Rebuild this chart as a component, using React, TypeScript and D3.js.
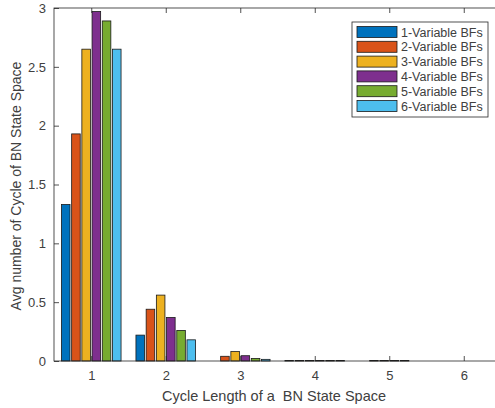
import { useRef, useEffect } from "react";
import * as d3 from "d3";

const cycleLengths = [1, 2, 3, 4, 5, 6];
const seriesNames = [
  "1-Variable BFs",
  "2-Variable BFs",
  "3-Variable BFs",
  "4-Variable BFs",
  "5-Variable BFs",
  "6-Variable BFs",
];
// values[series][cycleLength]
const oneVar = [1.33, 0.22, 0, 0.004, 0, 0];
const twoVar = [1.93, 0.44, 0.04, 0.004, 0.004, 0];
const threeVar = [2.65, 0.56, 0.08, 0.004, 0.004, 0];
const fourVar = [2.97, 0.37, 0.045, 0.004, 0.004, 0];
const fiveVar = [2.89, 0.26, 0.022, 0.004, 0.004, 0];
const sixVar = [2.65, 0.18, 0.014, 0.004, 0, 0];
const seriesValues = [oneVar, twoVar, threeVar, fourVar, fiveVar, sixVar];
const colors = ["#0072BD", "#D95319", "#EDB120", "#7E2F8E", "#77AC30", "#4DBEEE"];
const yTicks = [0, 0.5, 1, 1.5, 2, 2.5, 3];

export default function App() {
  const svgRef = useRef<SVGSVGElement>(null);

  useEffect(() => {
    if (!svgRef.current) return;
    const width = 495;
    const height = 408;
    const margin = { top: 8, right: -6, bottom: 47, left: 54 };
    const innerWidth = width - margin.left - margin.right;
    const innerHeight = height - margin.top - margin.bottom;

    const svg = d3.select(svgRef.current);
    svg.selectAll("*").remove();
    svg.attr("width", width).attr("height", height);
    svg.append("rect").attr("width", width).attr("height", height).attr("fill", "#fff");

    const g = svg.append("g").attr("transform", `translate(${margin.left},${margin.top})`);
    const font = "'Liberation Sans', Arial, sans-serif";
    const axisColor = "#262626";
    const textColor = "#404040";

    const x = d3.scaleLinear().domain([0.5, 6.5]).range([0, innerWidth]);
    const y = d3.scaleLinear().domain([0, 3]).range([innerHeight, 0]);
    const step = x(2) - x(1);
    const x1 = d3
      .scaleBand<number>()
      .domain(d3.range(seriesNames.length))
      .range([-0.4 * step, 0.4 * step])
      .paddingInner(0.16);

    // bars
    seriesValues.forEach((vals, si) => {
      g.selectAll(`.bar-${si}`)
        .data(vals.map((v, i) => ({ v, c: cycleLengths[i] })).filter((d) => d.v > 0))
        .join("rect")
        .attr("x", (d) => x(d.c) + (x1(si) ?? 0))
        .attr("y", (d) => y(d.v))
        .attr("width", x1.bandwidth())
        .attr("height", (d) => Math.max(innerHeight - y(d.v), 0.5))
        .attr("fill", colors[si])
        .attr("stroke", "#1a1a1a")
        .attr("stroke-width", 0.8);
    });

    // box
    g.append("rect")
      .attr("width", innerWidth)
      .attr("height", innerHeight)
      .attr("fill", "none")
      .attr("stroke", axisColor)
      .attr("stroke-width", 0.8);

    // axes
    const xb = g.append("g").attr("transform", `translate(0,${innerHeight})`)
      .call(d3.axisBottom(x).tickValues(cycleLengths).tickSize(-5).tickPadding(10).tickFormat(d3.format("d")));
    const xt = g.append("g").call(d3.axisTop(x).tickValues(cycleLengths).tickSize(-5).tickFormat(() => ""));
    const yl = g.append("g").call(d3.axisLeft(y).tickValues(yTicks).tickSize(-5).tickPadding(8).tickFormat(d3.format("")));
    const yr = g.append("g").attr("transform", `translate(${innerWidth},0)`)
      .call(d3.axisRight(y).tickValues(yTicks).tickSize(-5).tickFormat(() => ""));
    [xb, xt, yl, yr].forEach((a) => {
      a.select(".domain").remove();
      a.selectAll("line").attr("stroke", axisColor).attr("stroke-width", 0.8);
      a.selectAll("text").style("font-family", font).style("font-size", "13px").attr("fill", textColor);
    });

    // axis labels
    svg.append("text")
      .attr("x", 274)
      .attr("y", 401)
      .attr("text-anchor", "middle")
      .style("font-family", font)
      .style("font-size", "14.5px")
      .attr("fill", textColor)
      .attr("xml:space", "preserve")
      .text("Cycle Length of a  BN State Space");
    svg.append("text")
      .attr("transform", `translate(21,186) rotate(-90)`)
      .attr("text-anchor", "middle")
      .style("font-family", font)
      .style("font-size", "14px")
      .attr("fill", textColor)
      .text("Avg number of Cycle of BN State Space");

    // legend
    const lg = svg.append("g").attr("transform", "translate(352,22)");
    lg.append("rect").attr("width", 136).attr("height", 95).attr("fill", "#fff")
      .attr("stroke", axisColor).attr("stroke-width", 0.8);
    seriesNames.forEach((name, i) => {
      const row = lg.append("g").attr("transform", `translate(5,${4.5 + i * 14.8})`);
      row.append("rect").attr("width", 40).attr("height", 11).attr("fill", colors[i])
        .attr("stroke", "#1a1a1a").attr("stroke-width", 0.8);
      row.append("text").attr("x", 44).attr("y", 10)
        .style("font-family", font).style("font-size", "12.5px").attr("fill", textColor)
        .text(name);
    });
  }, []);

  return <svg ref={svgRef} style={{ position: "absolute", left: 0, top: 0 }} />;
}
